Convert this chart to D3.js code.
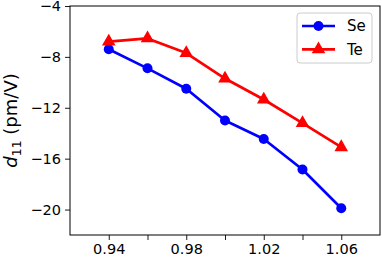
<!DOCTYPE html>
<html>
<head>
<meta charset="utf-8">
<script src="https://cdn.jsdelivr.net/npm/d3@7"></script>
<style>
  body { margin: 0; background: #fff; }
  text { font-family: "DejaVu Sans", sans-serif; }
</style>
</head>
<body>
<svg id="chart"></svg>
<script>
// data
const xVals = [0.94, 0.96, 0.98, 1.00, 1.02, 1.04, 1.06];
const seVals = [-7.4, -8.9, -10.5, -13.0, -14.45, -16.85, -19.9];
const teVals = [-6.8, -6.55, -7.7, -9.7, -11.35, -13.2, -15.1];
const xTicks = [0.94, 0.96, 0.98, 1.00, 1.02, 1.04, 1.06];
const xLabels = [0.94, 0.98, 1.02, 1.06];
const yTicks = [-4, -8, -12, -16, -20];

const series = [
  { name: 'Se', values: seVals, color: '#0000ff', marker: 'circle' },
  { name: 'Te', values: teVals, color: '#ff0000', marker: 'triangle' }
];

let margin = { top: 6, right: 2, bottom: 25, left: 70 },
  width = 382 - margin.left - margin.right,
  height = 260 - margin.top - margin.bottom;

let svg = d3.select('#chart')
  .attr('width', 382)
  .attr('height', 260)
  .append('g')
  .attr('transform', 'translate(' + margin.left + ',' + margin.top + ')');

let x = d3.scaleLinear().domain([0.92, 1.08]).range([0, width]);
let y = d3.scaleLinear().domain([-22, -4]).range([height, 0]);

const fmtX = d3.format('.2f');
const minus = v => String(v).replace('-', '\u2212');

// x axis, minor ticks stay unlabelled
let xAxis = svg.append('g')
  .attr('transform', 'translate(0,' + height + ')')
  .call(d3.axisBottom(x).tickValues(xTicks).tickSize(5).tickPadding(4)
    .tickFormat(d => xLabels.some(l => Math.abs(l - d) < 1e-9) ? fmtX(d) : ''));

// y axis
let yAxis = svg.append('g')
  .call(d3.axisLeft(y).tickValues(yTicks).tickSize(5).tickPadding(4)
    .tickFormat(minus));

[xAxis, yAxis].forEach(a => {
  a.select('.domain').remove();
  a.selectAll('line').attr('stroke', '#000').attr('stroke-width', 0.9);
  a.selectAll('text').attr('font-size', '14.5px').attr('fill', '#000');
});

// frame
svg.append('rect')
  .attr('width', width).attr('height', height)
  .attr('fill', 'none').attr('stroke', '#000').attr('stroke-width', 1);

// y label
let yl = svg.append('text')
  .attr('transform', 'translate(-53,' + (height / 2) + ') rotate(-90)')
  .attr('text-anchor', 'middle')
  .attr('font-size', '18px');
yl.append('tspan').attr('font-style', 'italic').text('d');
yl.append('tspan').attr('font-size', '12.5px').attr('dy', 4).text('11');
yl.append('tspan').attr('dy', -4).text(' (pm/V)');

const line = d3.line().x((d, i) => x(xVals[i])).y(d => y(d));
const tri = d3.symbol().type(d3.symbolTriangle).size(80);

function drawMarker(g, m, color, cx, cy) {
  if (m === 'circle') {
    g.append('circle').attr('cx', cx).attr('cy', cy).attr('r', 5).attr('fill', color);
  } else {
    g.append('path').attr('d', tri()).attr('transform', 'translate(' + cx + ',' + cy + ')')
      .attr('fill', color);
  }
}

series.forEach(s => {
  svg.append('path')
    .datum(s.values)
    .attr('fill', 'none')
    .attr('stroke', s.color)
    .attr('stroke-width', 2.7)
    .attr('stroke-linejoin', 'round')
    .attr('d', line);
  let g = svg.append('g');
  s.values.forEach((v, i) => drawMarker(g, s.marker, s.color, x(xVals[i]), y(v)));
});

// legend
let lg = svg.append('g').attr('transform', 'translate(' + (width - 83) + ',7)');
lg.append('rect')
  .attr('width', 75).attr('height', 50).attr('rx', 3)
  .attr('fill', '#fff').attr('fill-opacity', 0.8)
  .attr('stroke', '#cccccc').attr('stroke-width', 1);
series.forEach((s, i) => {
  let cy = 13 + i * 23.3;
  lg.append('line').attr('x1', 5).attr('x2', 38).attr('y1', cy).attr('y2', cy)
    .attr('stroke', s.color).attr('stroke-width', 2.7);
  drawMarker(lg, s.marker, s.color, 21.5, cy);
  lg.append('text').attr('x', 50).attr('y', cy).attr('dy', '0.36em')
    .attr('font-size', '15px').text(s.name);
});
</script>
</body>
</html>
